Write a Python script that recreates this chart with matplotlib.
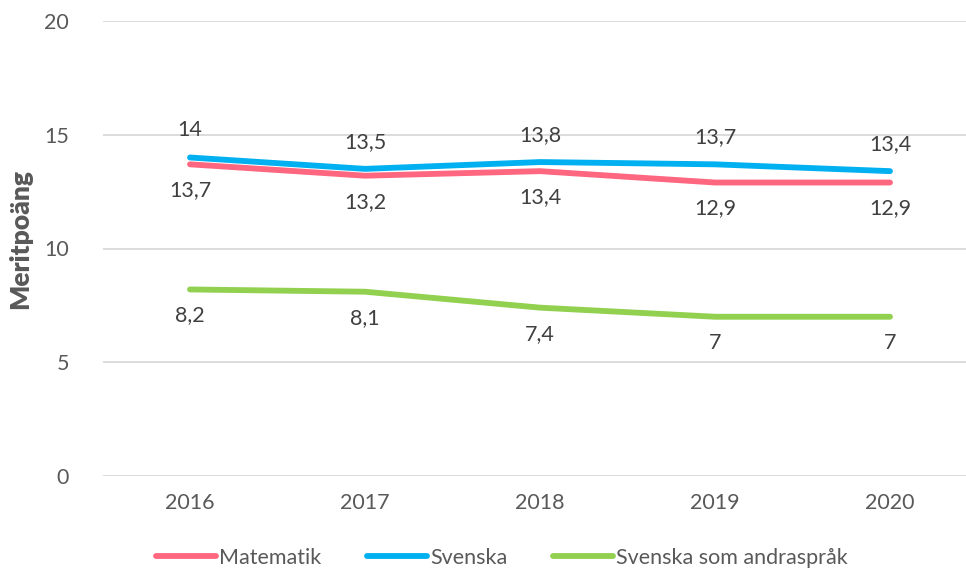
import matplotlib.pyplot as plt

years = ["2016", "2017", "2018", "2019", "2020"]
matematik = [13.7, 13.2, 13.4, 12.9, 12.9]
svenska = [14.0, 13.5, 13.8, 13.7, 13.4]
sva = [8.2, 8.1, 7.4, 7.0, 7.0]

plt.rcParams['font.family'] = ['Lato', 'DejaVu Sans']
txt = '#595959'
fs = 15.5

fig = plt.figure(figsize=(9.66, 5.72), dpi=100)
ax = fig.add_axes([102.5/966, 1-476/572, 875/966, 455/572])

x = range(len(years))
series = [
    ("Matematik", matematik, '#FF6680', -26),
    ("Svenska", svenska, '#00B0F0', 27),
    ("Svenska som andraspråk", sva, '#92D050', -26),
]
for name, vals, col, off in series:
    ax.plot(x, vals, color=col, lw=4.2, solid_capstyle='round', solid_joinstyle='round', label=name)
    for i, v in enumerate(vals):
        s = ('%g' % v).replace('.', ',')
        ax.annotate(s, (i, v), xytext=(0, off * 0.72), textcoords='offset points',
                    ha='center', va='center', fontsize=fs, color='#404040')

ax.set_xlim(-0.5, 4.5)
ax.set_ylim(0, 20)
ax.set_yticks([0, 5, 10, 15, 20])
ax.set_xticks(list(x))
ax.set_xticklabels(years)
ax.grid(axis='y', color='#D9D9D9', lw=1.3)
ax.set_axisbelow(True)
for sp in ax.spines.values():
    sp.set_visible(False)
ax.tick_params(length=0, labelsize=fs, labelcolor=txt)
ax.tick_params(axis='y', pad=24)
ax.tick_params(axis='x', pad=12)
ax.set_ylabel("Meritpoäng", fontsize=19, fontweight='heavy', color=txt)
ax.yaxis.set_label_coords(-70/875, 0.52)

fig.legend(loc='center', bbox_to_anchor=(502/966, 1-558/572), ncol=3, frameon=False,
           fontsize=fs, labelcolor=txt, handlelength=2.8, handletextpad=0.15,
           columnspacing=2.1)

fig.savefig('out.png', dpi=100)
